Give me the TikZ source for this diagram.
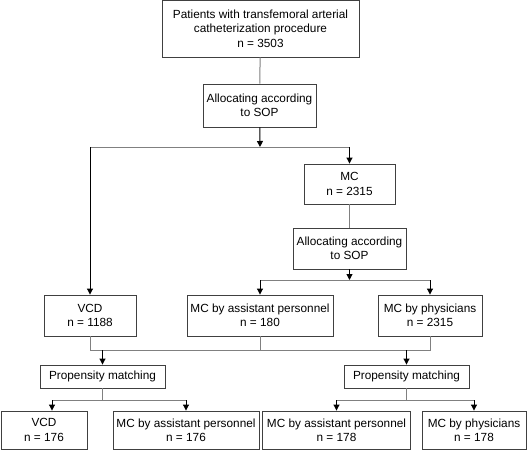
\documentclass[tikz,border=0pt]{standalone}
\usepackage{fontspec}
\setmainfont{Liberation Sans}
\usetikzlibrary{arrows.meta,positioning,calc}
\tikzset{
  box/.style={draw=black!75, line width=0.9pt, align=center, inner sep=0pt, fill=white, font=\fontsize{11.8}{14.3}\selectfont},
  arr/.style={-{Triangle[length=6pt,width=6pt]}, line width=1pt, black},
  ln/.style={line width=1pt, black!50},
}

\begin{document}
\begin{tikzpicture}[x=1pt, y=-1pt]
\useasboundingbox (0,0) rectangle (528,450);
\node[box, minimum width=197pt, minimum height=57pt] (pat) at (260.5,28.5) {Patients with transfemoral arterial\\catheterization procedure\\n = 3503};
\node[box, minimum width=113pt, minimum height=43pt] (alloc) at (259.5,105.5) {Allocating according\\to SOP};
\node[box, minimum width=91pt, minimum height=40pt] (mc) at (349.5,184) {MC\\n = 2315};
\node[box, minimum width=113pt, minimum height=41pt] (allocmc) at (349.5,248.5) {Allocating according\\to SOP};
\node[box, minimum width=92pt, minimum height=41pt] (vcd) at (90,315.5) {VCD\\n = 1188};
\node[box, minimum width=146pt, minimum height=41pt] (mcasst) at (260,315.5) {MC by assistant personnel\\n = 180};
\node[box, minimum width=104pt, minimum height=41pt] (mcphys) at (430,315.5) {MC by physicians\\n = 2315};
\node[box, minimum width=125pt, minimum height=23pt] (pmleft) at (102.5,376.5) {Propensity matching};
\node[box, minimum width=125pt, minimum height=23pt] (pmright) at (406.5,376.5) {Propensity matching};
\node[box, minimum width=86pt, minimum height=38pt] (vcdm) at (44,430) {VCD\\n = 176};
\node[box, minimum width=146pt, minimum height=38pt] (mcasstm) at (186,430) {MC by assistant personnel\\n = 176};
\node[box, minimum width=148pt, minimum height=38pt] (mcasstr) at (336.5,430) {MC by assistant personnel\\n = 178};
\node[box, minimum width=104pt, minimum height=38pt] (mcphysm) at (474,430) {MC by physicians\\n = 178};
\coordinate (j1) at (260,147);
\coordinate (j2) at (349.5,280);
\coordinate (j3) at (260,350);
\coordinate (j4) at (102.5,400);
\coordinate (j5) at (406.5,400);
\coordinate (tl) at (52,400);
\draw[ln] (pat) -- (alloc);
\draw[ln] (vcd |- j1) -- (mc |- j1);
\draw[arr] (alloc) -- (j1);
\draw[arr] (vcd |- j1) -- (vcd);
\draw[arr] (mc |- j1) -- (mc);
\draw[ln] (mc) -- (allocmc);
\draw[ln] (mcasst |- j2) -- (mcphys |- j2);
\draw[arr] (allocmc) -- (j2);
\draw[arr] (mcasst |- j2) -- (mcasst);
\draw[arr] (mcphys |- j2) -- (mcphys);
\draw[ln] (vcd) -- (vcd |- j3) -- (mcphys |- j3) -- (mcphys);
\draw[ln] (mcasst) -- (j3);
\draw[arr] (pmleft |- j3) -- (pmleft);
\draw[arr] (pmright |- j3) -- (pmright);
\draw[ln] (pmleft) -- (j4);
\draw[ln] (tl) -- (mcasstm |- j4);
\draw[arr] (tl) -- (tl |- vcdm.north);
\draw[arr] (mcasstm |- j4) -- (mcasstm);
\draw[ln] (pmright) -- (j5);
\draw[ln] (mcasstr |- j5) -- (mcphysm |- j5);
\draw[arr] (mcasstr |- j5) -- (mcasstr);
\draw[arr] (mcphysm |- j5) -- (mcphysm);
\end{tikzpicture}
\end{document}
